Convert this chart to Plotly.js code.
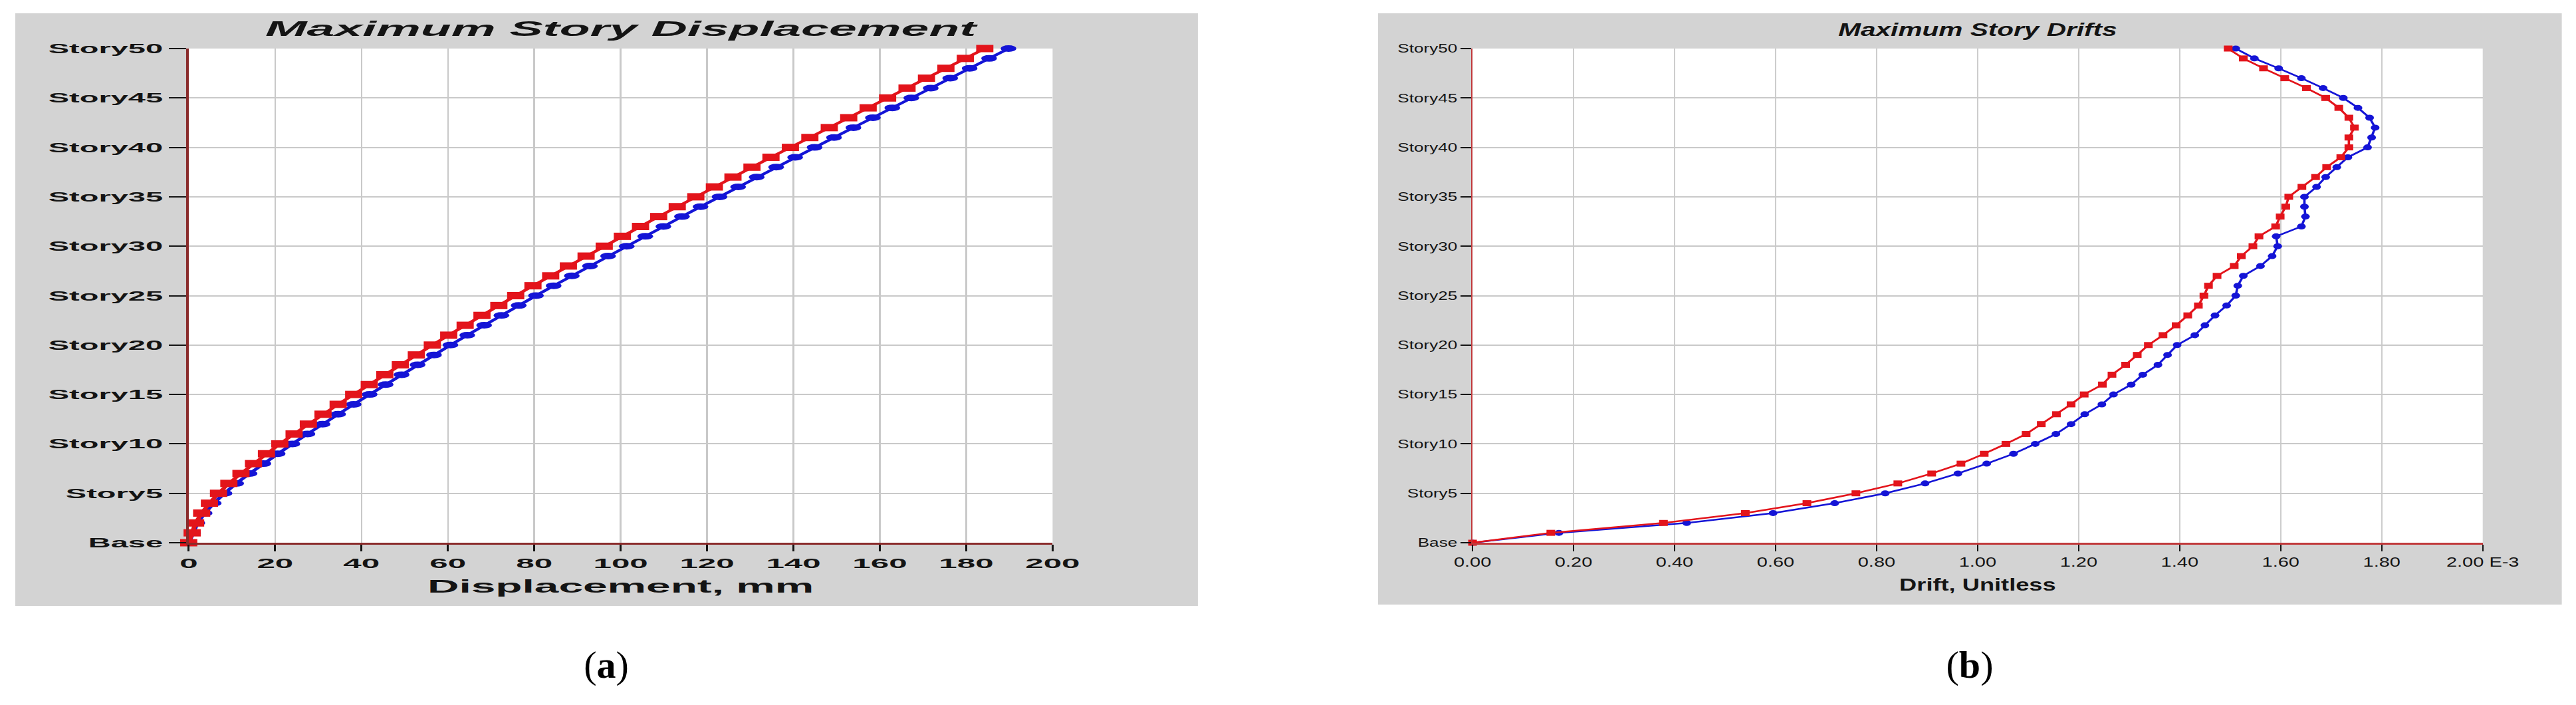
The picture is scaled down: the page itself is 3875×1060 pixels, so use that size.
<!DOCTYPE html>
<html>
<head>
<meta charset="utf-8">
<script src="https://cdn.plot.ly/plotly-3.0.1.min.js"></script>
<style>
html,body{margin:0;padding:0;background:#fff;width:3875px;height:1060px;overflow:hidden;position:relative;}
#chartA{position:absolute;left:23px;top:20px;width:757px;height:891px;transform:scaleX(2.35);transform-origin:0 0;}
#chartB{position:absolute;left:2073px;top:20px;width:1228px;height:889px;transform:scaleX(1.45);transform-origin:0 0;}
.cap{position:absolute;top:964px;width:200px;text-align:center;line-height:72px;font-family:"Liberation Serif","DejaVu Serif",serif;font-size:58px;color:#000;}
</style>
</head>
<body>
<div id="chartA"></div>
<div id="chartB"></div>
<div class="cap" style="left:812px">(<b>a</b>)</div>
<div class="cap" style="left:2863px">(<b>b</b>)</div>
<script>
// ---------- data ----------
const stories = ['Base','Story1','Story2','Story3','Story4','Story5','Story6','Story7','Story8','Story9','Story10',
  'Story11','Story12','Story13','Story14','Story15','Story16','Story17','Story18','Story19','Story20',
  'Story21','Story22','Story23','Story24','Story25','Story26','Story27','Story28','Story29','Story30',
  'Story31','Story32','Story33','Story34','Story35','Story36','Story37','Story38','Story39','Story40',
  'Story41','Story42','Story43','Story44','Story45','Story46','Story47','Story48','Story49','Story50'];
const storyTicks = ['Base','Story5','Story10','Story15','Story20','Story25','Story30','Story35','Story40','Story45','Story50'];

// (a) Maximum story displacement, mm
const dispTicks = [0,20,40,60,80,100,120,140,160,180,200];
const dispTickText = ['0','20','40','60','80','100','120','140','160','180','200'];
const dispRed = [0,0.8,1.6,3.0,4.8,6.9,9.3,12.1,15.0,18.0,21.1,
  24.4,27.7,31.1,34.6,38.2,41.8,45.4,49.0,52.7,56.4,
  60.2,64.0,67.9,71.8,75.7,79.7,83.8,87.9,92.0,96.2,
  100.4,104.6,108.8,113.1,117.4,121.7,126.0,130.4,134.8,139.3,
  143.8,148.3,152.8,157.3,161.8,166.3,170.8,175.3,179.8,184.3];
const dispBlue = [0,1.0,2.0,3.7,5.8,8.3,11.0,14.1,17.3,20.6,24.0,
  27.5,31.0,34.6,38.2,41.9,45.6,49.3,53.0,56.8,60.6,
  64.5,68.4,72.4,76.4,80.4,84.5,88.7,92.9,97.1,101.4,
  105.7,109.9,114.2,118.5,122.9,127.2,131.5,136.0,140.4,144.9,
  149.4,153.9,158.4,162.9,167.3,171.8,176.3,180.8,185.3,189.8];

// (b) Maximum story drifts, unitless (x 1E-3)
const driftTicks = [0,0.2,0.4,0.6,0.8,1.0,1.2,1.4,1.6,1.8,2.0];
const driftTickText = ['0.00','0.20','0.40','0.60','0.80','1.00','1.20','1.40','1.60','1.80','2.00 E-3'];
const driftRed = [0,0.155,0.378,0.540,0.662,0.759,0.842,0.909,0.967,1.013,1.056,
  1.096,1.126,1.156,1.185,1.211,1.247,1.266,1.293,1.316,1.338,
  1.367,1.393,1.416,1.437,1.448,1.457,1.474,1.508,1.522,1.545,
  1.557,1.590,1.599,1.610,1.616,1.642,1.669,1.691,1.719,1.735,
  1.735,1.746,1.735,1.715,1.689,1.651,1.608,1.566,1.526,1.496];
const driftBlue = [0,0.171,0.424,0.595,0.717,0.817,0.896,0.961,1.018,1.071,1.114,
  1.155,1.185,1.212,1.246,1.269,1.304,1.327,1.357,1.376,1.395,
  1.430,1.450,1.470,1.493,1.511,1.515,1.526,1.560,1.583,1.594,
  1.591,1.641,1.649,1.647,1.647,1.671,1.689,1.711,1.733,1.772,
  1.780,1.787,1.776,1.753,1.724,1.684,1.641,1.596,1.548,1.511];

// ---------- styles ----------
const F = '"Liberation Sans", Arial, sans-serif';
const GRAY = '#d3d3d3';
const TXT = '#141414';
const RED = '#e3141b';
const BLUE = '#1414d6';

function yAxis(opts) {
  return Object.assign({
    type: 'category', categoryorder: 'array', categoryarray: stories,
    range: [0, 50], tickmode: 'array', tickvals: storyTicks,
    showgrid: true, gridcolor: '#c9c9c9', gridwidth: 2, zeroline: false,
    showline: true, ticks: 'outside', tickcolor: TXT, tickwidth: 2,
    automargin: false, fixedrange: true
  }, opts);
}

// ---------- chart (a) ----------
const traceA = [
  {x: dispBlue, y: stories, type: 'scatter', mode: 'lines+markers', cliponaxis: false,
   line: {color: BLUE, width: 3}, marker: {symbol: 'circle', size: 10, color: BLUE}, name: 'Y'},
  {x: dispRed, y: stories, type: 'scatter', mode: 'lines+markers', cliponaxis: false,
   line: {color: RED, width: 3}, marker: {symbol: 'square', size: 11, color: RED}, name: 'X'}
];
const layoutA = {
  width: 757, height: 891,
  margin: {l: 111, r: 93, t: 53, b: 95},
  paper_bgcolor: GRAY, plot_bgcolor: '#ffffff',
  showlegend: false,
  title: {text: 'Maximum Story Displacement', x: 0.5, xref: 'paper', xanchor: 'center',
          y: 1 - 23 / 891, yref: 'container', yanchor: 'middle',
          font: {family: F, size: 32, weight: 'bold', style: 'italic', color: TXT}},
  xaxis: {range: [0, 200], tickmode: 'array', tickvals: dispTicks, ticktext: dispTickText,
          showgrid: true, gridcolor: '#c9c9c9', gridwidth: 1, zeroline: false,
          showline: true, linecolor: '#8a2b2b', linewidth: 3,
          ticks: 'outside', ticklen: 10, tickwidth: 1.3, tickcolor: TXT,
          tickfont: {family: F, size: 21, weight: 'bold', color: TXT},
          title: {text: 'Displacement, mm', standoff: 15,
                  font: {family: F, size: 28, weight: 'bold', color: TXT}},
          automargin: false, fixedrange: true},
  yaxis: yAxis({linecolor: '#8a2b2b', linewidth: 1.5, ticklen: 11,
                tickfont: {family: F, size: 20, weight: 'bold', color: TXT}})
};

// ---------- chart (b) ----------
const traceB = [
  {x: driftBlue, y: stories, type: 'scatter', mode: 'lines+markers', cliponaxis: false,
   line: {color: BLUE, width: 2.5}, marker: {symbol: 'circle', size: 9, color: BLUE}, name: 'Y'},
  {x: driftRed, y: stories, type: 'scatter', mode: 'lines+markers', cliponaxis: false,
   line: {color: RED, width: 2.5}, marker: {symbol: 'square', size: 9, color: RED}, name: 'X'}
];
const layoutB = {
  width: 1228, height: 889,
  margin: {l: 98, r: 82, t: 53, b: 93},
  paper_bgcolor: GRAY, plot_bgcolor: '#ffffff',
  showlegend: false,
  title: {text: 'Maximum Story Drifts', x: 0.5, xref: 'paper', xanchor: 'center',
          y: 1 - 24 / 889, yref: 'container', yanchor: 'middle',
          font: {family: F, size: 28, weight: 'bold', style: 'italic', color: TXT}},
  xaxis: {range: [0, 2.0], tickmode: 'array', tickvals: driftTicks, ticktext: driftTickText,
          showgrid: true, gridcolor: '#cdcdcd', gridwidth: 1.4, zeroline: false,
          showline: true, linecolor: '#c0393b', linewidth: 2.5,
          ticks: 'outside', ticklen: 10, tickwidth: 1.5, tickcolor: TXT,
          tickfont: {family: F, size: 20, color: TXT},
          title: {text: 'Drift, Unitless', standoff: 15,
                  font: {family: F, size: 25, weight: 'bold', color: TXT}},
          automargin: false, fixedrange: true},
  yaxis: yAxis({linecolor: '#c0393b', linewidth: 1.2, ticklen: 11,
                tickfont: {family: F, size: 18, color: TXT}})
};

const cfg = {displayModeBar: false, staticPlot: true};
Plotly.newPlot('chartA', traceA, layoutA, cfg);
Plotly.newPlot('chartB', traceB, layoutB, cfg);
</script>
</body>
</html>
